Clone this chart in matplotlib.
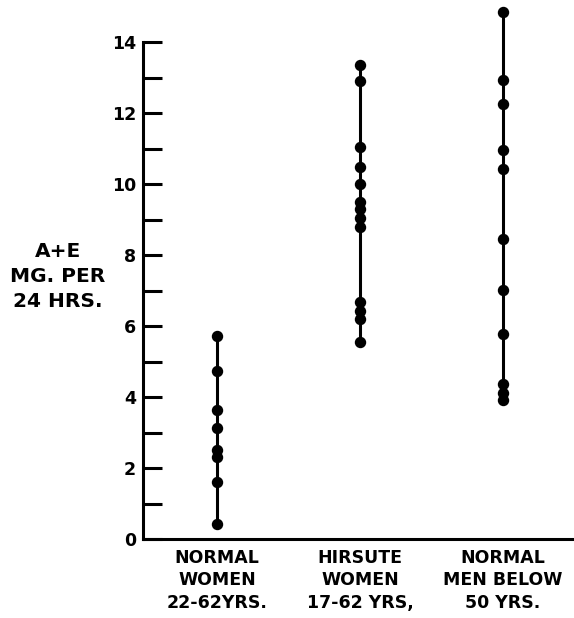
import numpy as np
import matplotlib
matplotlib.use('Agg')
from matplotlib import pyplot as plt
from matplotlib.ticker import FixedLocator

plt.rcParams['font.family'] = 'DejaVu Sans'
plt.rcParams['font.weight'] = 'bold'

# A+E excretion, mg per 24 hrs
normal_women = [5.73, 4.73, 3.63, 3.13, 2.51, 2.30, 1.61, 0.42]
hirsute_women = [13.36, 12.91, 11.03, 10.47, 10.0, 9.48, 9.29, 9.03, 8.80,
                 6.67, 6.41, 6.21, 5.54]
normal_men = [14.85, 12.93, 12.25, 10.96, 10.42, 8.45, 7.01, 5.77,
              4.37, 4.12, 3.92]

groups = [normal_women, hirsute_women, normal_men]
group_labels = ['NORMAL\nWOMEN\n22-62YRS.',
                'HIRSUTE\nWOMEN\n17-62 YRS,',
                'NORMAL\nMEN BELOW\n50 YRS.']
y_ticks = [0, 2, 4, 6, 8, 10, 12, 14]
y_minor = [1, 3, 5, 7, 9, 11, 13]

W, H = 574, 618
fig = plt.figure(figsize=(W / 100, H / 100), dpi=100)
ax = fig.add_axes([143 / W, 79 / H, (W - 143) / W, 536 / H])

for i, vals in enumerate(groups):
    x = i + 1
    ax.plot([x, x], [min(vals), max(vals)], color='black', lw=2.2,
            solid_capstyle='butt', clip_on=False)
    ax.plot([x] * len(vals), vals, 'o', color='black', markersize=7.2,
            clip_on=False)

ax.set_xlim(0.48, 3.5)
ax.set_ylim(0, 15.1)

for s in ['top', 'right']:
    ax.spines[s].set_visible(False)
for s in ['left', 'bottom']:
    ax.spines[s].set_linewidth(2.2)
ax.spines['left'].set_bounds(0, 14)

ax.set_yticks(y_ticks)
ax.set_yticklabels([str(t) for t in y_ticks], fontsize=12.5, fontweight='bold')
ax.yaxis.set_minor_locator(FixedLocator(y_minor))
ax.tick_params(axis='y', which='both', direction='in', length=13.5,
               width=2.2, pad=5)

ax.set_xticks([1, 2, 3])
ax.set_xticklabels(group_labels, fontsize=12.5, fontweight='bold',
                   linespacing=1.32)
ax.tick_params(axis='x', length=0, pad=7)

fig.text(58 / W, 1 - 277 / H, 'A+E\nMG. PER\n24 HRS.', ha='center',
         va='center', multialignment='center', fontsize=14.5,
         fontweight='bold', linespacing=1.4)

fig.savefig('out.png', dpi=100)
